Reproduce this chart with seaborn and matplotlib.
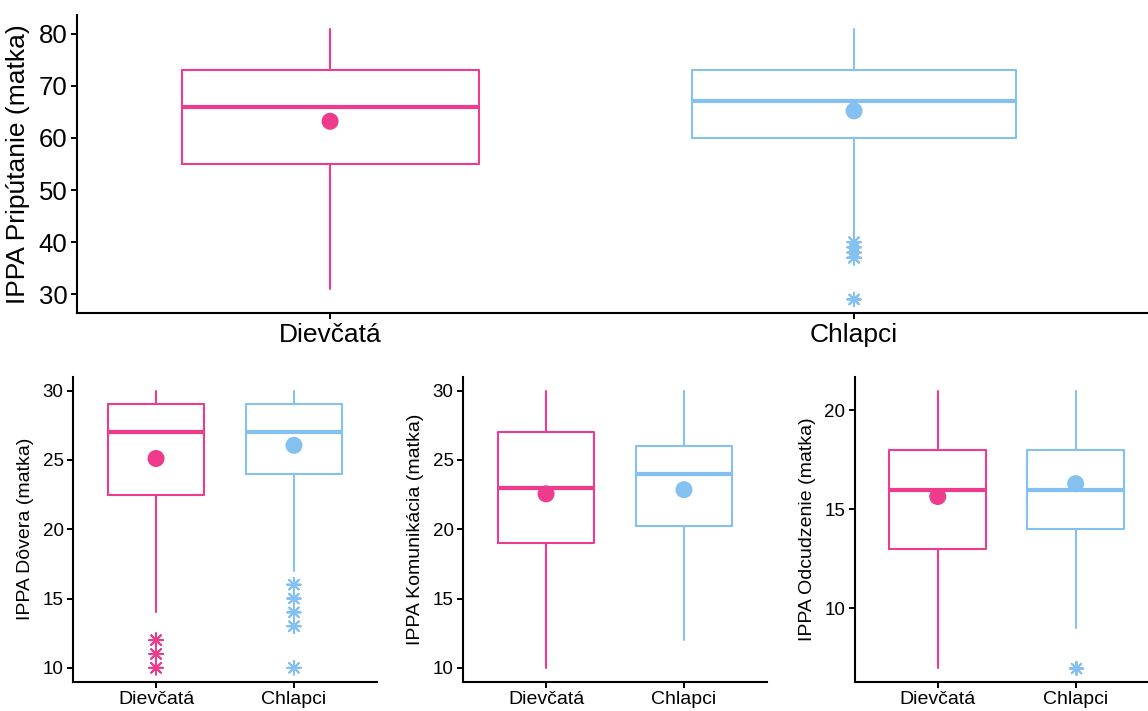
import pandas as pd
import matplotlib
matplotlib.use("Agg")
import matplotlib.pyplot as plt
import seaborn as sns

# groups and colours
groups = ["Dievčatá", "Chlapci"]
colors = ["#EF3B8C", "#85C1F0"]

# IPPA Pripútanie (matka)
prip_lo = [31, 41]
prip_q1 = [55, 60]
prip_med = [66, 67]
prip_q3 = [73, 73]
prip_hi = [81, 81]
prip_mean = [63.2, 65.2]
prip_out = [[], [40, 39, 38, 37, 37, 29]]

# IPPA Dôvera (matka)
dov_lo = [14, 17]
dov_q1 = [22.5, 24]
dov_med = [27, 27]
dov_q3 = [29, 29]
dov_hi = [30, 30]
dov_mean = [25.1, 26.05]
dov_out = [[12, 11, 10], [16, 15, 14, 13, 10]]

# IPPA Komunikácia (matka)
kom_lo = [10, 12]
kom_q1 = [19, 20.25]
kom_med = [23, 24]
kom_q3 = [27, 26]
kom_hi = [30, 30]
kom_mean = [22.55, 22.85]
kom_out = [[], []]

# IPPA Odcudzenie (matka)
odc_lo = [7, 9]
odc_q1 = [13, 14]
odc_med = [16, 16]
odc_q3 = [18, 18]
odc_hi = [21, 21]
odc_mean = [15.65, 16.3]
odc_out = [[], [7]]

sns.set_theme(style="ticks")
plt.rcParams['font.family'] = ['Liberation Sans', 'DejaVu Sans']
plt.rcParams['text.color'] = 'black'
plt.rcParams['axes.labelcolor'] = 'black'
plt.rcParams['xtick.color'] = 'black'
plt.rcParams['ytick.color'] = 'black'


def box_panel(ax, lo, q1, med, q3, hi, mean, out, ylabel, widths, fs_tick, fs_lab,
              xlim, ylim, yticks):
    stats = []
    for i in range(2):
        stats.append(dict(med=med[i], q1=q1[i], q3=q3[i], whislo=lo[i],
                          whishi=hi[i], fliers=[], label=groups[i]))
    art = ax.bxp(stats, positions=[0, 1], widths=widths, showcaps=False,
                 showfliers=False, manage_ticks=False)
    for i in range(2):
        art["boxes"][i].set_color(colors[i])
        art["boxes"][i].set_linewidth(1.5)
        art["medians"][i].set_color(colors[i])
        art["medians"][i].set_linewidth(3)
        for w in art["whiskers"][2 * i:2 * i + 2]:
            w.set_color(colors[i])
            w.set_linewidth(1.5)

    means = pd.DataFrame({"x": [0, 1], "y": mean, "g": groups})
    sns.scatterplot(data=means, x="x", y="y", hue="g", palette=colors,
                    s=150, linewidth=0, legend=False, ax=ax, zorder=4)

    rows = [(i, v, groups[i]) for i in range(2) for v in out[i]]
    if rows:
        outs = pd.DataFrame(rows, columns=["x", "y", "g"])
        pal = {g: c for g, c in zip(groups, colors)}
        sns.scatterplot(data=outs, x="x", y="y", hue="g", palette=pal,
                        marker=(8, 2, 0), s=95, linewidth=1.4, legend=False,
                        ax=ax, zorder=4)

    ax.set_xlim(*xlim)
    ax.set_ylim(*ylim)
    ax.set_yticks(yticks)
    ax.set_xticks([0, 1])
    ax.set_xticklabels(groups)
    ax.set_xlabel("")
    ax.set_ylabel(ylabel, fontsize=fs_lab, labelpad=6)
    ax.tick_params(axis="y", labelsize=fs_tick, width=1.4, length=4, color="black", pad=3)
    ax.tick_params(axis="x", labelsize=fs_lab, width=1.4, length=4, color="black", pad=3)
    for s in ["left", "bottom"]:
        ax.spines[s].set_linewidth(1.5)
        ax.spines[s].set_color("black")
    sns.despine(ax=ax)


fig = plt.figure(figsize=(11.48, 7.11), dpi=100)

W, H = 1148, 711
ax_top = fig.add_axes([77 / W, 1 - 313 / H, 1 - 77 / W, (313 - 15) / H])
box_panel(ax_top, prip_lo, prip_q1, prip_med, prip_q3, prip_hi, prip_mean, prip_out,
          "IPPA Pripútanie (matka)", [0.567, 0.62], 18.5, 19,
          (-0.483, 1.561), (26.4, 83.6), [30, 40, 50, 60, 70, 80])

bot_b = 1 - 681.7 / H
bot_h = (681.7 - 376.7) / H
bw = (376.7 - 73.3) / W
ax1 = fig.add_axes([73.3 / W, bot_b, bw, bot_h])
box_panel(ax1, dov_lo, dov_q1, dov_med, dov_q3, dov_hi, dov_mean, dov_out,
          "IPPA Dôvera (matka)", [0.7, 0.7], 13.5, 14,
          (-0.6, 1.6), (9, 31), [10, 15, 20, 25, 30])

ax2 = fig.add_axes([463.3 / W, bot_b, bw, bot_h])
box_panel(ax2, kom_lo, kom_q1, kom_med, kom_q3, kom_hi, kom_mean, kom_out,
          "IPPA Komunikácia (matka)", [0.7, 0.7], 13.5, 14,
          (-0.6, 1.6), (9, 31), [10, 15, 20, 25, 30])

ax3 = fig.add_axes([855 / W, bot_b, bw, bot_h])
box_panel(ax3, odc_lo, odc_q1, odc_med, odc_q3, odc_hi, odc_mean, odc_out,
          "IPPA Odcudzenie (matka)", [0.7, 0.7], 13.5, 14,
          (-0.6, 1.6), (6.3, 21.7), [10, 15, 20])

fig.savefig("out.png", dpi=100)
